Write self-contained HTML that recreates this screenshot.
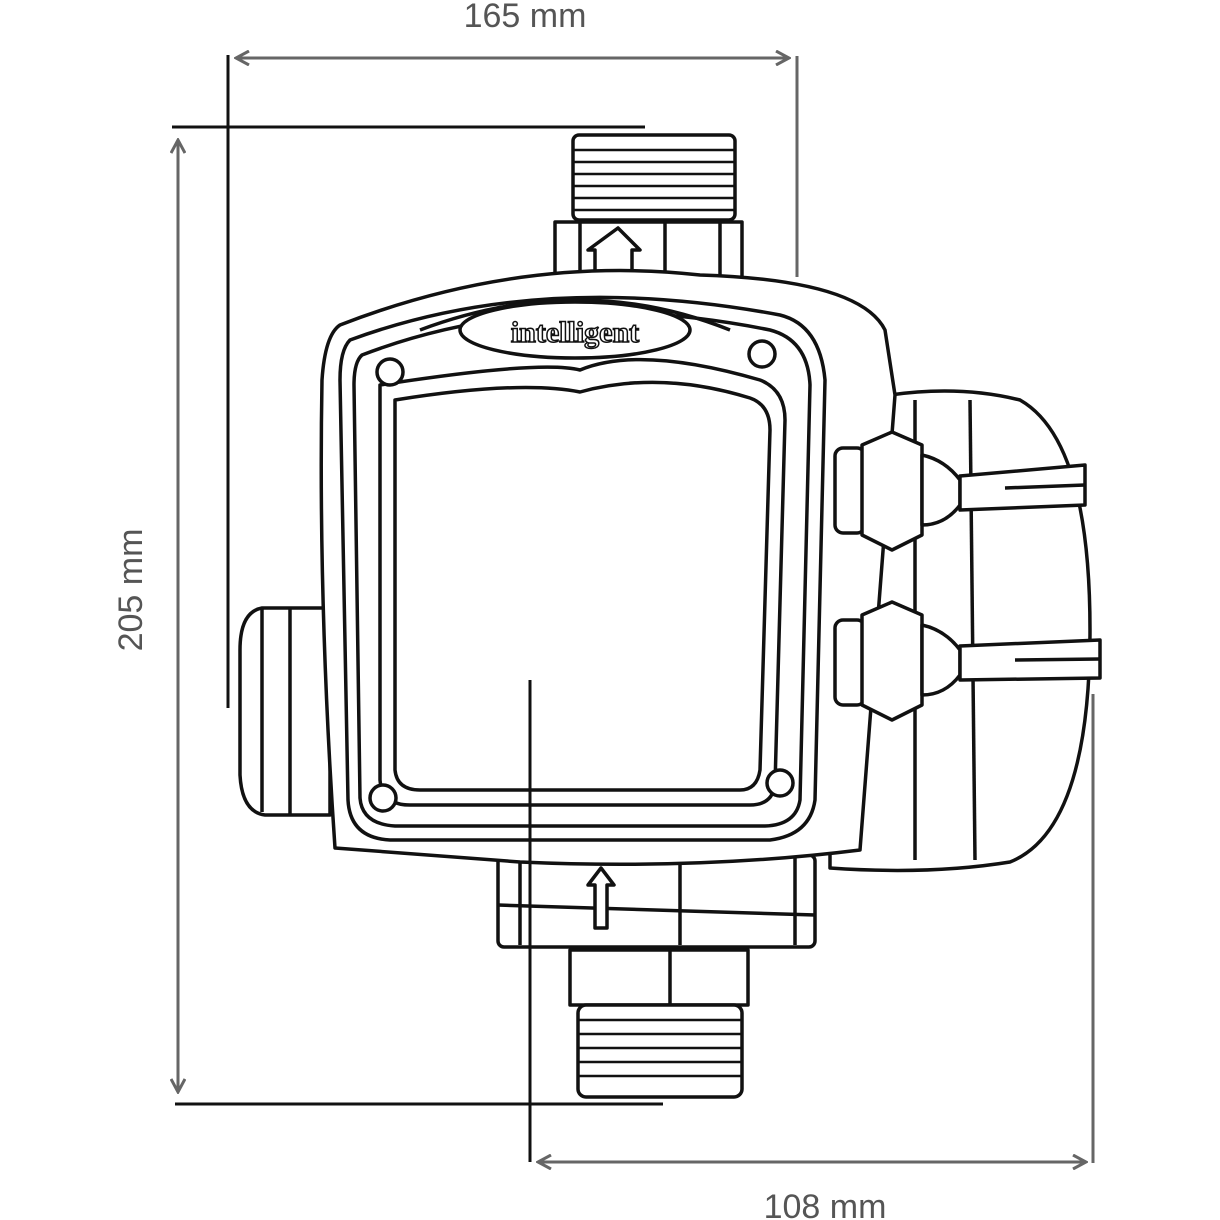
<!DOCTYPE html>
<html><head><meta charset="utf-8"><style>
html,body{margin:0;padding:0;background:#fff}
svg{display:block}
</style></head><body>
<svg width="1220" height="1220" viewBox="0 0 1220 1220" xmlns="http://www.w3.org/2000/svg">
<defs>
<marker id="a" markerWidth="16" markerHeight="16" refX="14" refY="8" orient="auto-start-reverse" markerUnits="userSpaceOnUse">
<path d="M1,1 L14,8 L1,15" fill="none" stroke="#666" stroke-width="3"/>
</marker>
</defs>
<g font-family="Liberation Sans, sans-serif" font-size="34" fill="#555" text-anchor="middle">
<text x="525" y="27">165 mm</text>
<text x="825" y="1218">108 mm</text>
<text transform="translate(142,590) rotate(-90)">205 mm</text>
</g>
<g stroke="#666" stroke-width="3" fill="none">
<line x1="236" y1="58" x2="789" y2="58" marker-start="url(#a)" marker-end="url(#a)"/>
<line x1="178" y1="140" x2="178" y2="1092" marker-start="url(#a)" marker-end="url(#a)"/>
<line x1="538" y1="1162" x2="1086" y2="1162" marker-start="url(#a)" marker-end="url(#a)"/>
<line x1="797" y1="56" x2="797" y2="277"/>
<line x1="1093" y1="694" x2="1093" y2="1163"/>
</g>
<g stroke="#111" stroke-width="3" fill="none">
<line x1="228" y1="55" x2="228" y2="708"/>
<line x1="172" y1="127" x2="645" y2="127"/>
<line x1="175" y1="1104" x2="663" y2="1104"/>
</g>
<g stroke="#111" stroke-width="3.5" fill="#fff" stroke-linejoin="round">
<path d="M890,395 Q960,385 1020,400 Q1090,440 1090,630 Q1090,830 1010,862 Q930,875 830,868 L830,395 Z"/>
<line x1="915" y1="400" x2="915" y2="860"/>
<line x1="970" y1="400" x2="975" y2="860"/>
<rect x="573" y="135" width="162" height="85" rx="6"/>
<g stroke-width="2.5"><line x1="573" y1="150" x2="735" y2="150"/><line x1="573" y1="162" x2="735" y2="162"/><line x1="573" y1="174" x2="735" y2="174"/><line x1="573" y1="186" x2="735" y2="186"/><line x1="573" y1="198" x2="735" y2="198"/><line x1="573" y1="210" x2="735" y2="210"/></g>
<path d="M555,222 L742,222 L742,282 L555,282 Z"/>
<line x1="580" y1="222" x2="580" y2="282"/><line x1="665" y1="222" x2="665" y2="282"/><line x1="720" y1="222" x2="720" y2="282"/>
<path d="M595,270 L595,250 L588,250 L618,228 L640,250 L632,250 L632,270" fill="#fff"/>
<path d="M330,608 L262,608 Q240,612 240,650 L240,775 Q242,812 265,815 L330,815 Z"/>
<line x1="262" y1="608" x2="262" y2="812"/>
<line x1="290" y1="608" x2="290" y2="815"/>
<rect x="498" y="855" width="317" height="92" rx="6"/>
<line x1="498" y1="905" x2="815" y2="915"/>
<line x1="520" y1="858" x2="520" y2="945"/><line x1="680" y1="858" x2="680" y2="945"/><line x1="795" y1="858" x2="795" y2="945"/>
<path d="M595,928 L595,885 L588,885 L601,868 L614,885 L607,885 L607,928 Z"/>
<path d="M570,950 L748,950 L748,1005 L570,1005 Z"/>
<line x1="670" y1="950" x2="670" y2="1005"/>
<rect x="578" y="1005" width="164" height="92" rx="8"/>
<g stroke-width="2.5"><line x1="578" y1="1020" x2="742" y2="1020"/><line x1="578" y1="1034" x2="742" y2="1034"/><line x1="578" y1="1048" x2="742" y2="1048"/><line x1="578" y1="1062" x2="742" y2="1062"/><line x1="578" y1="1076" x2="742" y2="1076"/></g>
<path d="M340,325 Q520,255 700,275 Q860,280 885,330 L895,395 L860,850 Q700,870 520,862 L335,848 Q318,600 322,380 Q325,335 340,325 Z"/>
<path d="M350,340 Q540,270 780,315 Q820,325 825,380 L815,800 Q810,835 770,840 L390,840 Q350,838 348,800 L340,380 Q340,350 350,340 Z"/>
<path d="M362,355 Q545,285 770,330 Q808,340 810,385 L800,800 Q796,825 765,826 L395,826 Q362,824 360,798 L354,385 Q354,362 362,355 Z"/>
<path d="M380,385 Q540,360 580,370 Q640,345 760,380 Q785,390 785,420 L775,785 Q772,805 750,805 L410,805 Q382,805 380,780 Z"/>
<path d="M395,400 Q520,380 580,392 Q660,370 750,398 Q770,405 770,430 L760,770 Q757,790 740,790 L420,790 Q397,790 395,770 Z"/>
<ellipse cx="575" cy="330" rx="115" ry="28"/>
<path d="M420,330 Q580,270 730,330" fill="none"/>
<circle cx="390" cy="372" r="13"/><circle cx="762" cy="354" r="13"/><circle cx="383" cy="798" r="13"/><circle cx="780" cy="783" r="13"/>
<rect x="835" y="448" width="30" height="85" rx="8"/>
<path d="M862,445 L892,432 L922,445 L922,535 L892,550 L862,535 Z"/>
<path d="M922,455 Q945,460 960,480 L960,505 Q945,525 922,525 Z"/>
<path d="M960,476 L1085,465 L1085,505 L960,510 Z"/>
<line x1="1005" y1="488" x2="1085" y2="485"/>
<rect x="835" y="620" width="30" height="85" rx="8"/>
<path d="M862,615 L892,602 L922,615 L922,705 L892,720 L862,705 Z"/>
<path d="M922,625 Q945,630 960,650 L960,675 Q945,695 922,695 Z"/>
<path d="M960,646 L1100,640 L1100,678 L960,680 Z"/>
<line x1="1015" y1="660" x2="1100" y2="659"/>
</g>
<text x="575" y="342" font-family="Liberation Serif, serif" font-weight="bold" font-size="30" fill="#fff" stroke="#111" stroke-width="1.5" text-anchor="middle">intelligent</text>
<line x1="530" y1="680" x2="530" y2="1162" stroke="#111" stroke-width="3"/>
</svg>
</body></html>
